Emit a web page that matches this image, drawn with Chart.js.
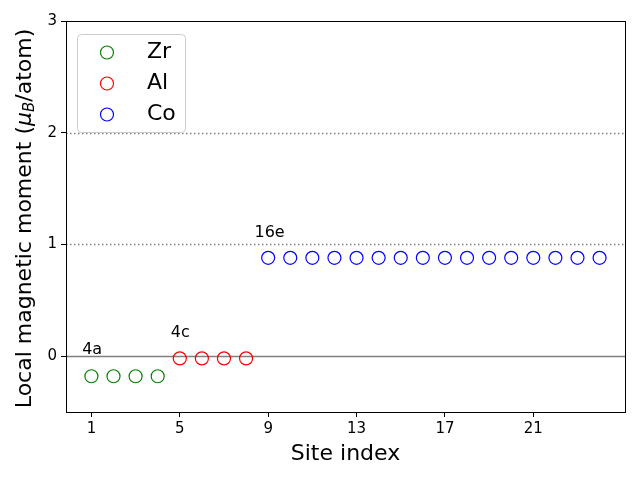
<!DOCTYPE html>
<html>
<head>
<meta charset="utf-8">
<script src="https://cdn.jsdelivr.net/npm/chart.js@4.4.0/dist/chart.umd.min.js"></script>
<style>
  html, body { margin: 0; padding: 0; background: #fff; }
</style>
</head>
<body>
<canvas id="myChart" width="640" height="480"></canvas>
<script>
// Site data
const zrSites = [1, 2, 3, 4];
const zrMoment = [-0.18, -0.18, -0.18, -0.18];
const alSites = [5, 6, 7, 8];
const alMoment = [-0.02, -0.02, -0.02, -0.02];
const coSites = [9, 10, 11, 12, 13, 14, 15, 16, 17, 18, 19, 20, 21, 22, 23, 24];
const coMoment = [0.88, 0.88, 0.88, 0.88, 0.88, 0.88, 0.88, 0.88, 0.88, 0.88, 0.88, 0.88, 0.88, 0.88, 0.88, 0.88];

const xTicks = [1, 5, 9, 13, 17, 21];
const yTicks = [0, 1, 2, 3];

// reference levels: 0 solid, 1 and 2 dotted
const refLevels = [0, 1, 2];
const refDotted = [false, true, true];

// Wyckoff labels and where they sit (data coords)
const siteLabels = ['4a', '4c', '16e'];
const siteLabelX = [0.58, 4.59, 8.38];
const siteLabelY = [0.02, 0.17, 1.07];

Chart.defaults.font.family = 'DejaVu Sans';
Chart.defaults.color = '#000';

let toPoints = (xs, ys) => xs.map((x, i) => ({ x: x, y: ys[i] }));

let pointStyle = (color) => ({
  pointStyle: 'circle',
  pointRadius: 6.5,
  pointHoverRadius: 6.5,
  pointBorderWidth: 1.2,
  borderColor: color,
  backgroundColor: 'rgba(0,0,0,0)',
  showLine: false
});

var data = {
  datasets: [
    Object.assign({ label: 'Zr', data: toPoints(zrSites, zrMoment) }, pointStyle('#008000')),
    Object.assign({ label: 'Al', data: toPoints(alSites, alMoment) }, pointStyle('#ff0000')),
    Object.assign({ label: 'Co', data: toPoints(coSites, coMoment) }, pointStyle('#0000ff'))
  ]
};

// extra drawing: ref lines, frame, labels, legend, axis titles
const extras = {
  id: 'extras',
  beforeDatasetsDraw(chart) {
    const ctx = chart.ctx;
    const area = chart.chartArea;
    const y = chart.scales.y;
    ctx.save();
    refLevels.forEach((lvl, i) => {
      const py = Math.round(y.getPixelForValue(lvl)) + 0.5;
      ctx.beginPath();
      ctx.strokeStyle = '#808080';
      ctx.lineWidth = 1.5;
      ctx.setLineDash(refDotted[i] ? [1.5, 2.5] : []);
      ctx.moveTo(area.left, py);
      ctx.lineTo(area.right, py);
      ctx.stroke();
    });
    ctx.restore();
  },
  afterDraw(chart) {
    const ctx = chart.ctx;
    const area = chart.chartArea;
    const xs = chart.scales.x;
    const ys = chart.scales.y;
    ctx.save();

    // frame
    ctx.strokeStyle = '#000';
    ctx.lineWidth = 1;
    ctx.strokeRect(Math.round(area.left) + 0.5, Math.round(area.top) + 0.5,
      Math.round(area.right - area.left), Math.round(area.bottom - area.top));

    // site labels
    ctx.fillStyle = '#000';
    ctx.font = '16px "DejaVu Sans"';
    ctx.textAlign = 'left';
    ctx.textBaseline = 'alphabetic';
    siteLabels.forEach((t, i) => {
      ctx.fillText(t, xs.getPixelForValue(siteLabelX[i]), ys.getPixelForValue(siteLabelY[i]));
    });

    // legend
    const lx = 77, ly = 34, lw = 108, lh = 98;
    ctx.beginPath();
    ctx.roundRect(lx + 0.5, ly + 0.5, lw, lh, 4);
    ctx.fillStyle = 'rgba(255,255,255,0.8)';
    ctx.fill();
    ctx.strokeStyle = '#cccccc';
    ctx.lineWidth = 1;
    ctx.stroke();
    ctx.font = '22px "DejaVu Sans"';
    ctx.textBaseline = 'middle';
    chart.data.datasets.forEach((ds, i) => {
      const cy = 52.5 + i * 31;
      ctx.beginPath();
      ctx.arc(107, cy, 6.5, 0, Math.PI * 2);
      ctx.strokeStyle = ds.borderColor;
      ctx.lineWidth = 1.2;
      ctx.stroke();
      ctx.fillStyle = '#000';
      ctx.fillText(ds.label, 147, cy);
    });

    // x title
    ctx.textAlign = 'center';
    ctx.fillText('Site index', (area.left + area.right) / 2, 454);

    // y title with italic mu_B
    const parts = [
      { t: 'Local magnetic moment (', f: '22px "DejaVu Sans"', dy: 0 },
      { t: 'μ', f: 'italic 22px "DejaVu Sans"', dy: 0 },
      { t: 'B', f: 'italic 15px "DejaVu Sans"', dy: 5 },
      { t: '/atom)', f: '22px "DejaVu Sans"', dy: 0 }
    ];
    let total = 0;
    parts.forEach(p => { ctx.font = p.f; p.w = ctx.measureText(p.t).width; total += p.w; });
    ctx.translate(25, (area.top + area.bottom) / 2 + 2);
    ctx.rotate(-Math.PI / 2);
    ctx.textAlign = 'left';
    let cx = -total / 2;
    parts.forEach(p => {
      ctx.font = p.f;
      ctx.fillText(p.t, cx, p.dy);
      cx += p.w;
    });
    ctx.restore();
  }
};

var options = {
  responsive: false,
  animation: false,
  layout: { padding: { left: 0, top: 21, right: 15, bottom: 0 } },
  plugins: {
    legend: { display: false },
    tooltip: { enabled: false }
  },
  scales: {
    x: {
      type: 'linear',
      min: -0.15,
      max: 25.15,
      afterBuildTicks: (scale) => { scale.ticks = xTicks.map(v => ({ value: v })); },
      afterFit: (scale) => { scale.height = 68; },
      grid: { drawOnChartArea: false, drawTicks: true, tickLength: 5, tickColor: '#000' },
      border: { display: true, color: '#000' },
      ticks: { font: { size: 15 }, color: '#000', padding: 3, maxRotation: 0 }
    },
    y: {
      type: 'linear',
      min: -0.5,
      max: 3,
      afterBuildTicks: (scale) => { scale.ticks = yTicks.map(v => ({ value: v })); },
      afterFit: (scale) => { scale.width = 66; },
      grid: { drawOnChartArea: false, drawTicks: true, tickLength: 5, tickColor: '#000' },
      border: { display: true, color: '#000' },
      ticks: { font: { size: 15 }, color: '#000', padding: 4 }
    }
  }
};

var context = document.getElementById('myChart').getContext('2d');
var myChart = new Chart(context, {
  type: 'scatter',
  data: data,
  options: options,
  plugins: [extras]
});
</script>
</body>
</html>
